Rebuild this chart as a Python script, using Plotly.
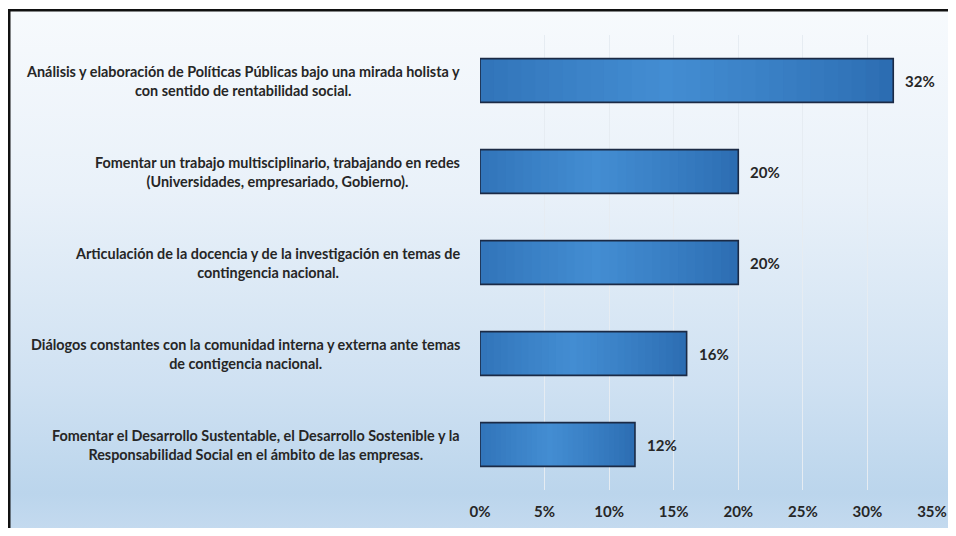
import base64
import plotly.graph_objects as go

categories = [
    "Análisis y elaboración de Políticas Públicas bajo una mirada holista y<br>con sentido de rentabilidad social.",
    "Fomentar un trabajo multisciplinario, trabajando en redes<br>(Universidades, empresariado, Gobierno).",
    "Articulación de la docencia y de la investigación en temas de<br>contingencia nacional.",
    "Diálogos constantes con la comunidad interna y externa ante temas<br>de contigencia nacional.",
    "Fomentar el Desarrollo Sustentable, el Desarrollo Sostenible y la<br>Responsabilidad Social en el ámbito de las empresas.",
]
values = [32, 20, 20, 16, 12]
tick_vals = [0, 5, 10, 15, 20, 25, 30, 35]
tick_text = ["0%", "5%", "10%", "15%", "20%", "25%", "30%", "35%"]

# page has an 8px body margin on every side
W, H = 940, 520
L, R, T, B = 472, 16, 27, 38
pw, ph = W - L - R, H - T - B

svg = f'''<svg xmlns="http://www.w3.org/2000/svg" width="{W}" height="{H}" viewBox="0 0 {W} {H}" preserveAspectRatio="none">
<defs><linearGradient id="g" x1="0" y1="0" x2="0" y2="1">
<stop offset="0" stop-color="#F7FAFD"/>
<stop offset="0.35" stop-color="#E9F1F9"/>
<stop offset="0.72" stop-color="#CFE1F2"/>
<stop offset="0.93" stop-color="#BBD5EC"/>
<stop offset="1" stop-color="#C4DAEF"/>
</linearGradient></defs>
<rect x="0" y="0" width="{W}" height="{H}" fill="#FFFFFF"/>
<rect x="0" y="2" width="{W}" height="{H}" fill="url(#g)"/>
<rect x="0" y="1" width="{W}" height="2.5" fill="#111"/>
<rect x="0" y="1" width="2.5" height="{H}" fill="#111"/>
</svg>'''
src = "data:image/svg+xml;base64," + base64.b64encode(svg.encode()).decode()

edge = (0x2B, 0x6B, 0xB0)
mid = (0x43, 0x8D, 0xD2)


def col(t):
    # lighter near 45% of the bar length, darker at both ends
    d = abs(t - 0.45) / 0.55
    f = max(0.0, 1 - d) ** 0.8
    c = [round(e + (m - e) * f) for e, m in zip(edge, mid)]
    return "rgb(%d,%d,%d)" % tuple(c)


fig = go.Figure()
N = 30
for i in range(N):
    t = (i + 0.5) / N
    # each layer starts further right and runs to the bar end, painted over the previous
    fig.add_trace(go.Bar(
        x=[v * (1 - i / N) for v in values], base=[v * i / N for v in values],
        y=categories, orientation="h", width=0.48,
        marker=dict(color=col(t), line=dict(width=0)),
        hoverinfo="skip",
    ))
fig.add_trace(go.Bar(
    x=values, y=categories, orientation="h", width=0.48,
    marker=dict(color="rgba(0,0,0,0)", line=dict(color="#1B2A45", width=1.6)),
    hoverinfo="skip",
))

for c, v in zip(categories, values):
    fig.add_annotation(x=v, y=c, xref="x", yref="y", text=f"<b>{v}%</b>",
                       showarrow=False, xanchor="left", xshift=10,
                       font=dict(family="Lato", size=15, color="#262626"))
    fig.add_annotation(x=0, y=c, xref="paper", yref="y", text=f"<b>{c}</b>",
                       showarrow=False, xanchor="right", xshift=-18, align="center",
                       font=dict(family="Lato", size=14.4, color="#262626"))

fig.update_layout(
    width=W, height=H,
    margin=dict(l=L, r=R, t=T, b=B, autoexpand=False),
    paper_bgcolor="rgba(0,0,0,0)",
    plot_bgcolor="rgba(0,0,0,0)",
    showlegend=False,
    barmode="overlay",
    images=[dict(source=src, xref="paper", yref="paper",
                 x=-L / pw, y=1 + T / ph, sizex=W / pw, sizey=H / ph,
                 xanchor="left", yanchor="top", sizing="stretch", layer="below")],
    xaxis=dict(range=[0, 35], tickvals=tick_vals,
               ticktext=[f"<b>{t}</b>" for t in tick_text],
               showgrid=True, gridcolor="#E6ECF2", gridwidth=1,
               zeroline=False, showline=False, automargin=False,
               ticks="outside", ticklen=8, tickcolor="rgba(0,0,0,0)",
               tickfont=dict(family="Lato", size=15, color="#262626")),
    yaxis=dict(autorange="reversed", showticklabels=False, showgrid=False,
               zeroline=False, showline=False, automargin=False),
    font=dict(family="Lato"),
)

fig.write_html("out.html")
